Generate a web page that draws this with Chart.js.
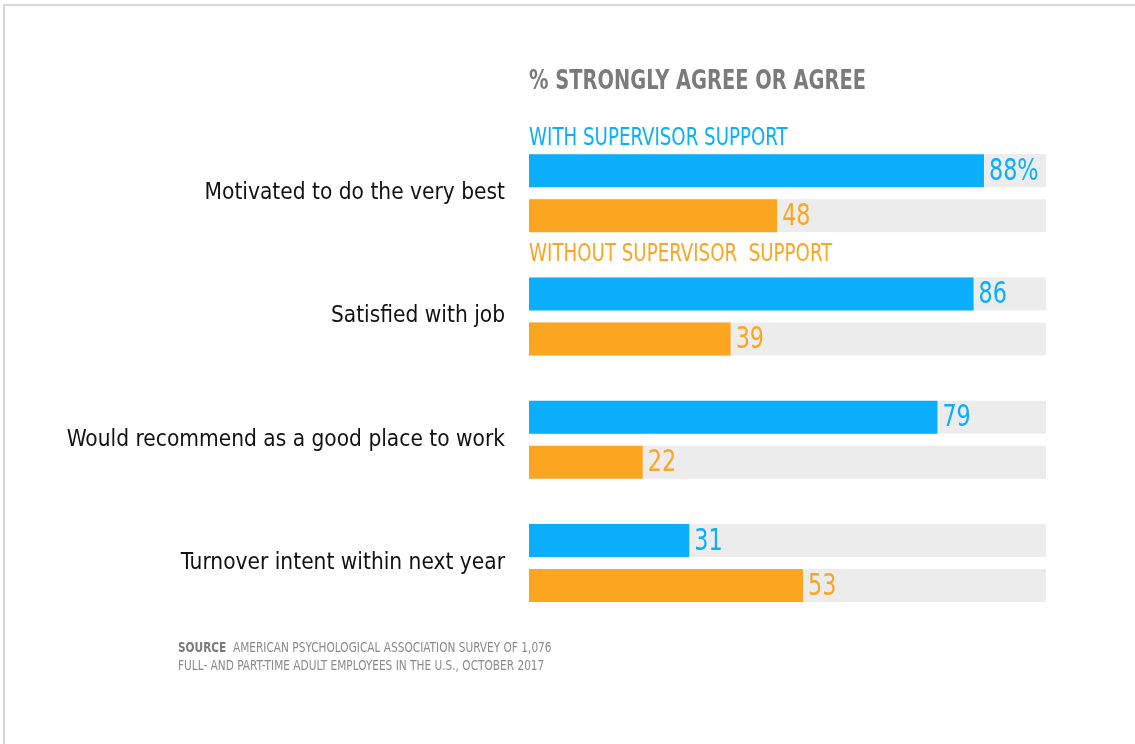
<!DOCTYPE html>
<html>
<head>
<meta charset="utf-8">
<script src="https://cdn.jsdelivr.net/npm/chart.js@4.4.1/dist/chart.umd.min.js"></script>
<style>
  html, body { margin: 0; padding: 0; background: #ffffff; overflow: hidden; }
  #wrap { position: relative; width: 1135px; height: 744px; }
  #frame { position: absolute; left: 3px; top: 4px; width: 1150px; height: 760px;
           border-top: 2px solid #d7d7d7; border-left: 2px solid #d7d7d7; }
  #chart { position: absolute; left: 0; top: 0; }
  #source { position: absolute; left: 178px; top: 638px; color: #8a8a8a;
            font-family: "Liberation Sans Narrow", "DejaVu Sans Condensed", Roboto, sans-serif;
            font-size: 14.5px; line-height: 18px; white-space: nowrap;
            transform: scaleX(0.81); transform-origin: 0 0; }
  #source b { color: #7a7a7a; }
</style>
</head>
<body>
<div id="wrap">
  <div id="frame"></div>
  <canvas id="chart" width="1135" height="744"></canvas>
  <div id="source"><b>SOURCE</b>&nbsp; AMERICAN PSYCHOLOGICAL ASSOCIATION SURVEY OF 1,076<br>FULL- AND PART-TIME ADULT EMPLOYEES IN THE U.S., OCTOBER 2017</div>
</div>
<script>
// ---- data ----
const categories = [
  "Motivated to do the very best",
  "Satisfied with job",
  "Would recommend as a good place to work",
  "Turnover intent within next year"
];
const withSupport = [88, 86, 79, 31];
const withoutSupport = [48, 39, 22, 53];
const seriesNames = ["WITH SUPERVISOR SUPPORT", "WITHOUT SUPERVISOR  SUPPORT"];
const chartTitle = "% STRONGLY AGREE OR AGREE";
const firstValueSuffix = "%";
const axisMin = 0;
const axisMax = 100;

// ---- style ----
const FONT = '"Liberation Sans Narrow", "DejaVu Sans Condensed", Roboto, sans-serif';
const BLUE = '#0aaefb';
const ORANGE = '#fba521';
const TRACK = '#ececec';

// draw horizontally condensed text (to mimic the narrow typeface of the original)
function narrowText(ctx, txt, x, y, sx) {
  ctx.save();
  ctx.translate(x, y);
  ctx.scale(sx, 1);
  ctx.fillText(txt, 0, 0);
  ctx.restore();
}

const trackPlugin = {
  id: 'track',
  beforeDatasetsDraw(chart) {
    const ctx = chart.ctx;
    const area = chart.chartArea;
    ctx.save();
    ctx.fillStyle = TRACK;
    chart.data.datasets.forEach((ds, di) => {
      chart.getDatasetMeta(di).data.forEach(el => {
        const h = el.height;
        ctx.fillRect(el.base, el.y - h / 2, area.right - el.base, h);
      });
    });
    ctx.restore();
  }
};

const labelPlugin = {
  id: 'labels',
  afterDatasetsDraw(chart) {
    const ctx = chart.ctx;
    const area = chart.chartArea;
    ctx.save();
    // value labels
    ctx.textAlign = 'left';
    ctx.textBaseline = 'middle';
    ctx.font = '31px ' + FONT;
    chart.data.datasets.forEach((ds, di) => {
      ctx.fillStyle = ds.backgroundColor;
      chart.getDatasetMeta(di).data.forEach((el, i) => {
        let txt = String(ds.data[i]);
        if (di === 0 && i === 0) txt += firstValueSuffix;
        narrowText(ctx, txt, el.x + 5, el.y + 1, 0.8);
      });
    });
    // title
    ctx.textBaseline = 'alphabetic';
    ctx.fillStyle = '#7b7b7b';
    ctx.font = 'bold 27px ' + FONT;
    narrowText(ctx, chartTitle, area.left, 89, 0.8);
    // series names next to first group
    const b0 = chart.getDatasetMeta(0).data[0];
    const o0 = chart.getDatasetMeta(1).data[0];
    ctx.font = '25px ' + FONT;
    ctx.fillStyle = BLUE;
    narrowText(ctx, seriesNames[0], area.left, b0.y - b0.height / 2 - 9, 0.81);
    ctx.fillStyle = ORANGE;
    narrowText(ctx, seriesNames[1], area.left, o0.y + o0.height / 2 + 29, 0.81);
    ctx.restore();
  }
};

new Chart(document.getElementById('chart'), {
  type: 'bar',
  data: {
    labels: categories,
    datasets: [
      { label: seriesNames[0], data: withSupport, backgroundColor: BLUE,
        categoryPercentage: 0.73, barPercentage: 0.733, borderWidth: 0 },
      { label: seriesNames[1], data: withoutSupport, backgroundColor: ORANGE,
        categoryPercentage: 0.73, barPercentage: 0.733, borderWidth: 0 }
    ]
  },
  options: {
    indexAxis: 'y',
    responsive: false,
    animation: false,
    devicePixelRatio: 1,
    layout: { padding: { left: 0, right: 89, top: 131.5, bottom: 119.3 } },
    plugins: { legend: { display: false }, tooltip: { enabled: false }, title: { display: false } },
    scales: {
      x: { min: axisMin, max: axisMax, display: false },
      y: {
        grid: { display: false, drawTicks: false },
        border: { display: false },
        ticks: { color: '#111111', font: { family: FONT, size: 22.5 }, padding: 24 },
        afterFit(scale) { scale.width = 529; }
      }
    }
  },
  plugins: [trackPlugin, labelPlugin]
});
</script>
</body>
</html>
